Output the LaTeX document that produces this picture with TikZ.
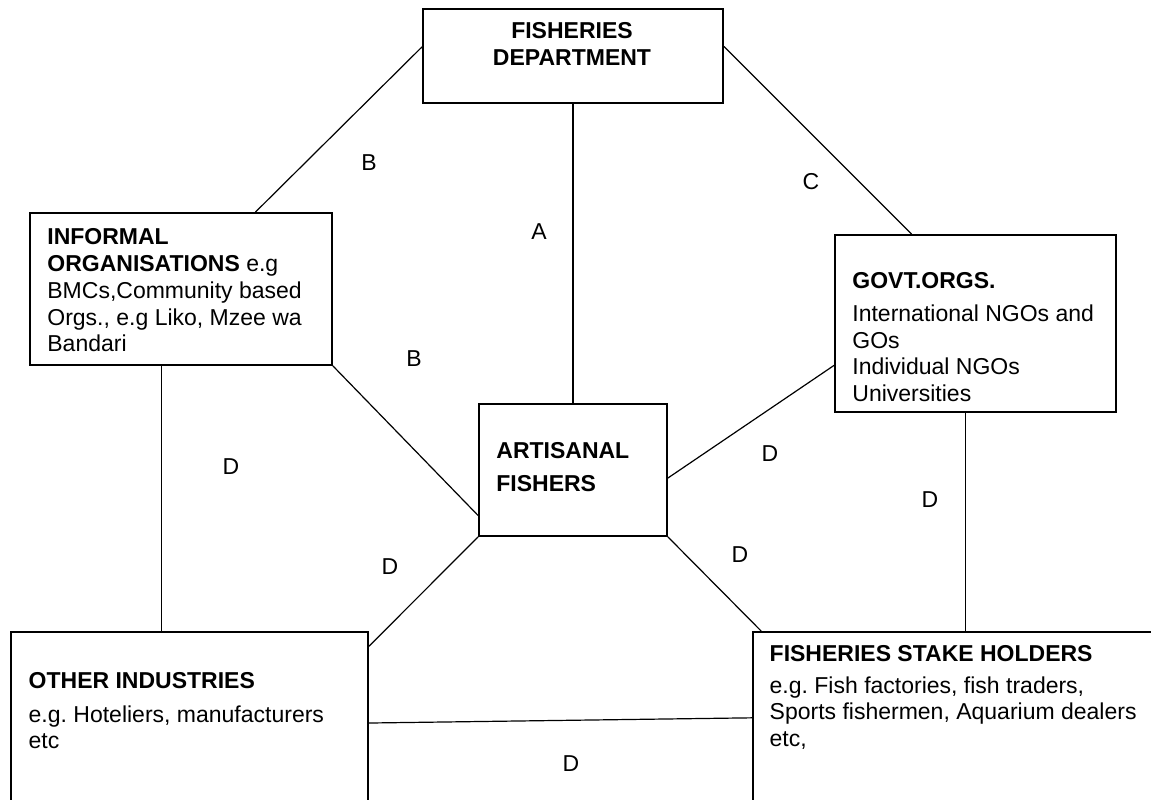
\documentclass[tikz,border=0pt]{standalone}
\usepackage{fontspec}
\setmainfont{Liberation Sans}
\usetikzlibrary{calc}
\frenchspacing
\begin{document}
\begin{tikzpicture}[x=0.5pt,y=-0.5pt,
  box/.style={draw, line width=0.9pt, rectangle, inner sep=0pt, anchor=center},
  txt/.style={anchor=north west, inner sep=0pt, align=left, font=\fontsize{11.5}{13.35}\selectfont\frenchspacing},
  lbl/.style={inner sep=0pt, font=\fontsize{11.5}{13.35}\selectfont},
  link/.style={line width=0.6pt}]
\useasboundingbox (0,0) rectangle (1151,799);
\clip (0,0) rectangle (1151,799);
\fill[white] (0,0) rectangle (1151,799);

% boxes
\node[box, minimum width=150pt, minimum height=47pt] (FD) at (573,56) {};
\node[box, minimum width=151pt, minimum height=76pt] (INF) at (181,289) {};
\node[box, minimum width=140.5pt, minimum height=88.5pt] (GOV) at (975.5,323.5) {};
\node[box, minimum width=94pt, minimum height=66pt] (ART) at (573,470) {};
\node[box, minimum width=178.5pt, minimum height=99pt] (OTH) at (189.5,731) {};
\node[box, minimum width=206pt, minimum height=99pt] (STK) at (959,731) {};

% texts
\node[txt, anchor=north, align=center] (tFD) at (572,22) {\textbf{FISHERIES}\\\textbf{DEPARTMENT}};
\node[txt] (tINF) at (47,228.5) {\textbf{INFORMAL}\\\textbf{ORGANISATIONS} e.g\\BMCs,Community based\\Orgs., e.g Liko, Mzee wa\\Bandari};
\node[txt] (tGOV) at (852,271.7) {\textbf{GOVT.ORGS.}\\[3.3pt]International NGOs and\\GOs\\Individual NGOs\\Universities};
\node[txt] (tART) at (496,441.7) {\textbf{ARTISANAL}\\[3.3pt]\textbf{FISHERS}};
\node[txt] (tOTH) at (28.3,671.7) {\textbf{OTHER INDUSTRIES}\\[3.6pt]e.g. Hoteliers, manufacturers\\etc};
\node[txt] (tSTK) at (769.3,645) {\textbf{FISHERIES STAKE HOLDERS}\\[2.5pt]e.g. Fish factories, fish traders,\\Sports fishermen, Aquarium dealers\\etc,};

% connectors
\draw[link] ($(FD.north west)!0.404!(FD.south west)$) -- ($(INF.north west)!0.745!(INF.north east)$);
\draw[link] ($(FD.north east)!0.40!(FD.south east)$) -- ($(GOV.north west)!0.274!(GOV.north east)$);
\draw[link] (FD.south) -- (ART.north);
\draw[link] (INF.south east) -- ($(ART.north west)!0.84!(ART.south west)$);
\coordinate (infd) at ($(INF.south west)!0.437!(INF.south east)$);
\draw[link] (infd) -- (infd |- OTH.north);
\draw[link] ($(GOV.north west)!0.734!(GOV.south west)$) -- ($(ART.north east)!0.56!(ART.south east)$);
\coordinate (govd) at ($(GOV.south west)!0.466!(GOV.south east)$);
\draw[link] (govd) -- (govd |- STK.north);
\draw[link] (ART.south west) -- ($(OTH.north east)!0.076!(OTH.south east)$);
\draw[link] (ART.south east) -- ($(STK.north west)!0.022!(STK.north east)$);
\draw[link] ($(OTH.north east)!0.46!(OTH.south east)$) -- ($(STK.north west)!0.434!(STK.south west)$);

% labels
\node[lbl] (lB1) at (369,163) {B};
\node[lbl] (lA) at (539,232) {A};
\node[lbl] (lC) at (811,182) {C};
\node[lbl] (lB2) at (414,359) {B};
\node[lbl] (lD1) at (231,467) {D};
\node[lbl] (lD2) at (770,454) {D};
\node[lbl] (lD3) at (930,500) {D};
\node[lbl] (lD4) at (390,567) {D};
\node[lbl] (lD5) at (740,555) {D};
\node[lbl] (lD6) at (571,764) {D};
\end{tikzpicture}
\end{document}
